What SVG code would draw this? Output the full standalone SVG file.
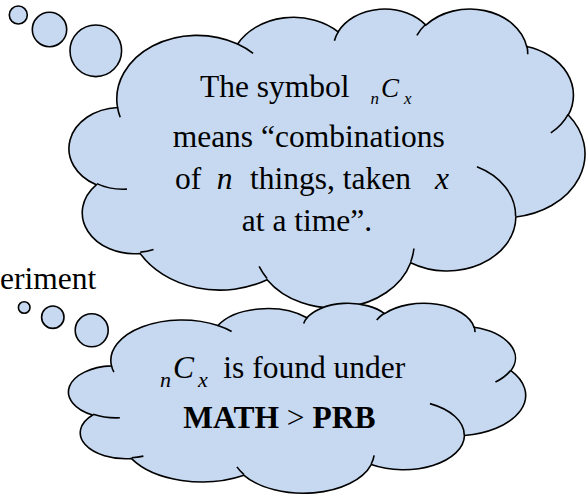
<svg xmlns="http://www.w3.org/2000/svg" xmlns:xlink="http://www.w3.org/1999/xlink" width="586" height="497" viewBox="0 0 586 497">
<defs>
<path id="cloudShape" vector-effect="non-scaling-stroke" d="M 3900 14370 A 6753 9190 0 0 1 14002 5200 A 5333 7267 0 0 1 22453 3428 A 4365 5945 0 0 1 29829 2474 A 4857 6595 0 0 1 38314 5569 A 5333 7273 0 0 1 41814 15453 A 6775 9220 0 0 1 37402 30199 A 5785 7867 0 0 1 28554 36809 A 6752 9215 0 0 1 16479 39262 A 7720 10543 0 0 1 5803 35469 A 4360 5918 0 0 1 2111 25548 A 4345 5945 0 0 1 3900 14370 Z"/>
<path id="cloudFolds" vector-effect="non-scaling-stroke" d="M 4693 26177 A 4345 5945 0 0 1 2160 25380 M 6928 34899 A 4360 5918 0 0 1 5820 35281 M 16478 39090 A 6752 9215 0 0 1 15810 37349 M 28827 34751 A 6752 9215 0 0 1 28561 36659 M 34129 22954 A 5785 7867 0 0 1 37381 30090 M 41798 15354 A 5333 7273 0 0 1 40345 18036 M 38324 5426 A 4857 6595 0 0 1 38400 6690 M 29078 3952 A 4857 6595 0 0 1 29820 2340 M 22141 4720 A 4365 5945 0 0 1 22500 3331 M 14000 5192 A 6753 9190 0 0 1 15303 6543 M 4127 15789 A 6753 9190 0 0 1 3900 14371"/>
</defs>
<style>
.shape{fill:#C6D9F1;stroke:#000;stroke-width:1.6}
.fold{fill:none;stroke:#000;stroke-width:1.6}
.it{font-style:italic}
.b{font-weight:bold}
</style>
<g font-family="'Liberation Serif', 'Times New Roman', 'DejaVu Serif', serif" font-size="31.5" fill="#000">
<g id="partial-text">
<text x="0" y="289">eriment</text>
</g>
<g id="cloud-top">
<circle class="shape" cx="18.3" cy="15" r="9"/>
<circle class="shape" cx="49.5" cy="29.5" r="17.2"/>
<circle class="shape" cx="95.8" cy="50.8" r="25.8"/>
<g transform="translate(71.15 8.06) scale(0.01189 0.006918)">
<use xlink:href="#cloudShape" class="shape"/>
<use xlink:href="#cloudFolds" class="fold"/>
</g>
<text x="200" y="97">The symbol</text>
<text class="it" x="370.5" y="104" font-size="17">n</text>
<text class="it" x="381" y="97" font-size="27">C</text>
<text class="it" x="404" y="104" font-size="17">x</text>
<text x="308.7" y="147" text-anchor="middle">means “combinations</text>
<text y="189"><tspan x="175">of</tspan><tspan class="it" x="216.7">n</tspan><tspan x="250">things, taken</tspan><tspan class="it" x="435">x</tspan></text>
<text x="307" y="231" text-anchor="middle">at a time”.</text>
</g>
<g id="cloud-bottom">
<circle class="shape" cx="24.2" cy="307.5" r="5.8"/>
<circle class="shape" cx="52.8" cy="317.2" r="11.2"/>
<circle class="shape" cx="91.7" cy="330.3" r="16.5"/>
<g transform="translate(70.4 302.7) scale(0.010535 0.004396)">
<use xlink:href="#cloudShape" class="shape"/>
<use xlink:href="#cloudFolds" class="fold"/>
</g>
<text class="it" x="160" y="386.7" font-size="22">n</text>
<text class="it" x="173" y="378.3">C</text>
<text class="it" x="198" y="386.7" font-size="22">x</text>
<text x="223.3" y="378.3">is found under</text>
<text x="183.3" y="428.3"><tspan class="b">MATH</tspan> &gt; <tspan class="b">PRB</tspan></text>
</g>
</g>
</svg>
